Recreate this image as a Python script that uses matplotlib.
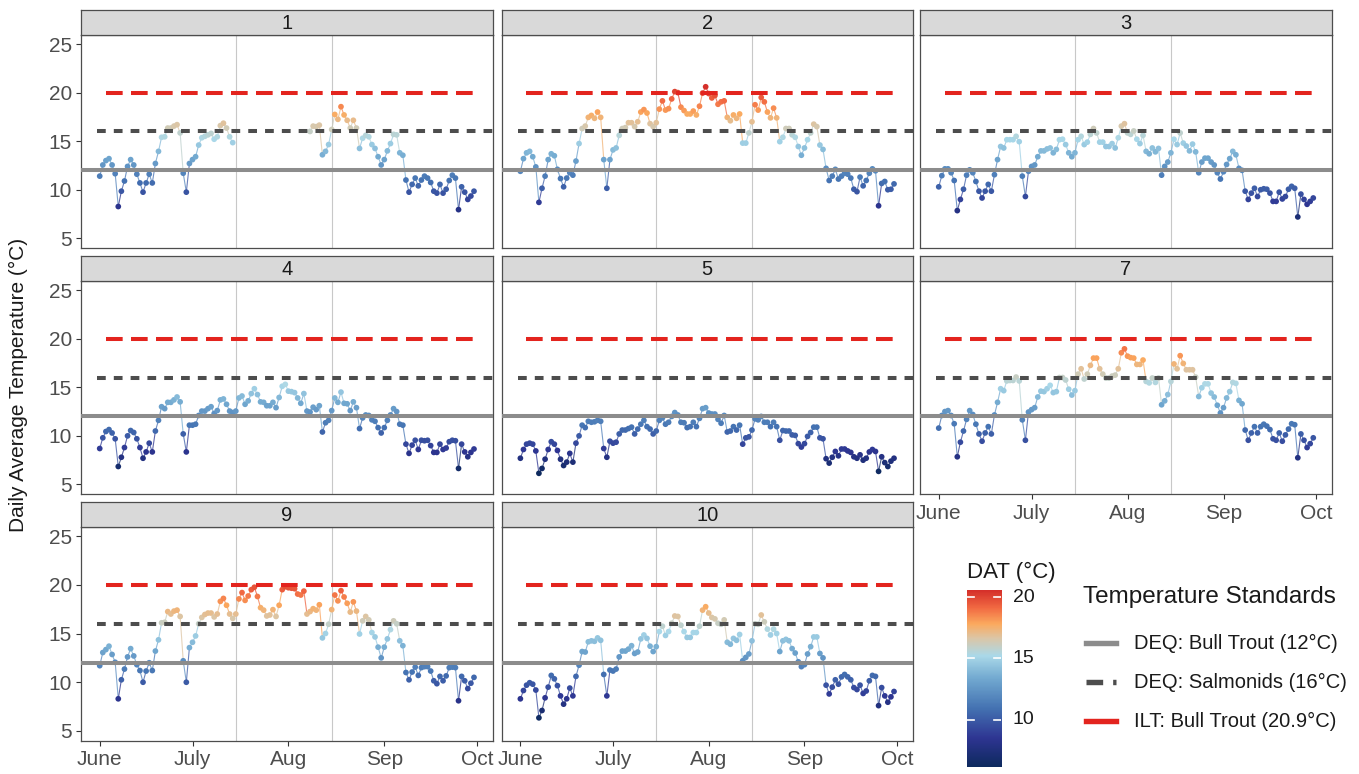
import numpy as np
import pandas as pd
import matplotlib
matplotlib.use("Agg")
import matplotlib.pyplot as plt
import matplotlib.dates as mdates
from matplotlib.collections import LineCollection
from matplotlib.colors import LinearSegmentedColormap, Normalize
from matplotlib.lines import Line2D

plt.rcParams['font.family'] = ['Liberation Sans', 'DejaVu Sans']
plt.rcParams['lines.scale_dashes'] = False

nan = np.nan

# daily average temperature, June 1 - Sep 30, one list per site
site_1 = [11.4, 12.55, 13.0, 13.2, 12.55, 11.65, 8.27, 9.85, 10.9, 12.4,
          13.1, 12.55, 11.6, 10.7, 9.75, 10.7, 11.6, 10.7, 12.7, 13.95,
          15.4, 15.45, 16.35, 16.35, 16.55, 16.7, 15.85, 11.7, 9.75, 12.7,
          13.1, 13.4, 14.6, 15.35, 15.5, 15.65, 15.8, 15.2, 15.45, 16.6,
          16.85, 16.35, 15.45, 14.85,
          nan, nan, nan, nan, nan, nan, nan, nan, nan, nan, nan, nan,
          nan, nan, nan, nan, nan, nan, nan, nan, nan, nan, nan, nan,
          16.0, 16.55, 16.5, 16.65, 13.6, 13.95, 14.65, 16.2, 17.75, 17.25,
          18.55, 17.7, 17.15, 16.35, 17.15, 16.35, 14.25, 15.3, 15.6, 15.45,
          14.65, 14.25, 13.4, 12.55, 13.1, 14.0, 14.75, 15.7, 15.65, 13.8,
          13.55, 11.0, 9.75, 10.55, 11.2, 10.4, 11.0, 11.4, 11.2, 10.75,
          9.85, 9.65, 10.55, 9.65, 10.05, 10.95, 11.5, 11.2, 7.95, 10.3,
          9.75, 9.0, 9.35, 9.85]
site_2 = [11.9, 13.2, 13.8, 13.95, 13.4, 12.35, 8.7, 10.15, 11.4, 13.1,
          13.7, 13.5, 12.1, 11.15, 10.3, 11.2, 11.75, 11.5, 12.95, 14.75,
          16.3, 16.55, 17.45, 17.65, 17.35, 18.0, 17.45, 13.1, 10.15, 13.1,
          14.1, 14.3, 15.6, 16.3, 16.4, 16.9, 16.9, 16.5, 17.0, 18.0,
          18.25, 17.9, 16.8, 16.5, 16.9, 18.3, 19.15, 18.2, 18.35, 19.35,
          20.1, 20.0, 18.5, 18.15, 17.8, 17.8, 18.1, 17.7, 18.6, 19.95,
          20.6, 19.9, 19.45, 19.7, 18.8, 19.05, 19.15, 17.45, 17.1, 17.7,
          17.35, 17.8, 14.8, 14.8, 15.85, 17.0, 18.75, 18.2, 19.5, 19.05,
          18.0, 17.4, 18.4, 17.4, 14.95, 15.4, 16.3, 16.3, 15.65, 15.4,
          14.45, 13.55, 14.3, 15.15, 15.85, 16.75, 16.5, 14.6, 14.15, 12.2,
          10.95, 11.4, 12.1, 11.1, 11.4, 11.7, 11.6, 11.2, 10.05, 9.8,
          11.3, 10.4, 10.95, 11.7, 12.15, 11.95, 8.35, 10.65, 10.85, 10.0,
          10.05, 10.6]
site_3 = [10.3, 11.45, 12.15, 12.15, 11.75, 10.95, 7.85, 9.0, 10.05, 11.5,
          12.05, 11.75, 10.85, 9.85, 9.15, 9.85, 10.55, 9.85, 11.55, 13.1,
          14.45, 14.3, 15.15, 15.15, 15.15, 15.5, 14.95, 11.4, 9.3, 11.9,
          12.4, 12.55, 13.4, 14.0, 14.0, 14.2, 14.3, 13.8, 14.15, 15.15,
          15.2, 14.65, 13.8, 13.4, 13.8, 15.15, 15.5, 14.65, 14.9, 15.7,
          16.3, 15.85, 14.9, 14.9, 14.45, 14.45, 14.75, 14.3, 15.35, 16.55,
          16.8, 15.85, 15.7, 16.05, 15.2, 14.75, 15.6, 13.95, 13.7, 14.3,
          13.9, 14.25, 11.5, 12.4, 12.85, 13.8, 15.2, 14.65, 15.85, 14.8,
          14.5, 14.0, 14.7, 13.9, 11.75, 12.85, 13.25, 13.25, 12.85, 12.55,
          11.75, 11.1, 11.85, 12.6, 13.2, 13.95, 13.6, 12.2, 12.0, 9.85,
          9.0, 9.65, 10.15, 9.3, 10.0, 10.1, 10.05, 9.65, 8.8, 8.8,
          9.75, 9.05, 9.3, 10.05, 10.35, 10.15, 7.2, 9.55, 9.0, 8.5,
          8.8, 9.15]
site_4 = [8.7, 9.8, 10.45, 10.65, 10.3, 9.7, 6.85, 7.8, 8.8, 10.0,
          10.55, 10.35, 9.7, 8.8, 7.7, 8.35, 9.25, 8.35, 10.5, 11.6,
          13.0, 12.8, 13.45, 13.45, 13.7, 14.0, 13.5, 10.2, 8.35, 11.1,
          11.1, 11.2, 12.1, 12.55, 12.55, 12.8, 13.0, 12.3, 12.6, 13.7,
          13.8, 13.25, 12.55, 12.4, 12.55, 13.9, 14.1, 13.25, 13.6, 14.35,
          14.85, 14.25, 13.5, 13.45, 13.1, 13.1, 13.45, 12.9, 13.95, 15.1,
          15.3, 14.6, 14.55, 14.45, 13.9, 13.35, 14.35, 12.55, 12.45, 12.95,
          12.7, 13.1, 10.4, 11.35, 11.6, 12.6, 13.9, 13.45, 14.5, 13.35,
          13.3, 12.6, 13.5, 12.9, 10.75, 11.85, 12.15, 12.1, 11.65, 11.5,
          10.85, 10.3, 10.85, 11.6, 12.15, 12.8, 12.5, 11.2, 11.1, 9.15,
          8.2, 9.05, 9.55, 8.6, 9.55, 9.5, 9.55, 9.0, 8.3, 8.3,
          9.15, 8.6, 8.75, 9.4, 9.55, 9.5, 6.65, 9.15, 8.35, 7.85,
          8.3, 8.65]
site_5 = [7.7, 8.6, 9.15, 9.25, 9.15, 8.45, 6.15, 6.65, 7.6, 8.6,
          9.4, 9.15, 8.5, 7.6, 6.95, 7.3, 8.2, 7.3, 9.25, 10.0,
          11.1, 10.85, 11.5, 11.4, 11.45, 11.6, 11.5, 8.7, 7.8, 9.45,
          9.25, 9.35, 10.2, 10.6, 10.6, 10.75, 10.9, 10.2, 10.7, 11.2,
          11.6, 10.95, 10.7, 10.2, 10.5, 11.6, 11.85, 11.2, 11.4, 12.0,
          12.4, 12.15, 11.4, 11.35, 10.85, 10.95, 11.4, 10.95, 11.8, 12.8,
          12.9, 12.35, 12.25, 12.25, 11.7, 11.3, 12.1, 10.4, 10.5, 10.95,
          10.6, 11.1, 9.15, 9.8, 9.9, 10.6, 11.75, 11.65, 12.0, 11.4,
          11.4, 10.95, 11.4, 10.95, 9.55, 10.55, 10.5, 10.5, 10.1, 10.05,
          9.2, 8.85, 9.2, 9.95, 10.35, 10.9, 10.9, 9.8, 9.7, 7.65,
          7.2, 7.8, 8.4, 7.95, 8.65, 8.65, 8.45, 8.3, 7.85, 7.7,
          8.05, 7.5, 7.7, 8.35, 8.6, 8.4, 6.35, 7.85, 7.25, 6.85,
          7.4, 7.7]
site_7 = [10.8, 12.1, 12.5, 12.6, 12.1, 11.25, 7.85, 9.35, 10.5, 11.7,
          12.6, 12.2, 11.2, 10.2, 9.45, 10.3, 10.95, 10.2, 12.15, 13.45,
          14.85, 14.65, 15.65, 15.7, 15.7, 16.05, 15.65, 11.65, 9.55, 12.45,
          12.7, 12.9, 14.0, 14.6, 14.55, 14.85, 15.2, 14.45, 14.55, 16.0,
          16.0, 15.75, 14.8, 14.2, 14.65, 16.35, 16.9, 15.85, 16.35, 17.25,
          18.0, 18.0, 16.9, 16.35, 15.95, 15.95, 16.15, 16.25, 16.9, 18.55,
          18.95, 18.2, 18.05, 18.0, 17.35, 17.35, 17.8, 15.6, 15.45, 15.95,
          15.5, 15.95, 13.2, 13.6, 14.25, 15.6, 17.4, 16.9, 18.25, 17.45,
          16.8, 16.8, 16.8, 16.05, 14.05, 14.95, 15.35, 15.35, 14.4, 14.0,
          13.15, 12.35, 12.9, 13.9, 14.55, 15.5, 15.4, 13.65, 13.3, 10.6,
          9.55, 10.3, 10.95, 10.3, 10.95, 11.2, 11.0, 10.65, 9.7, 9.55,
          10.3, 9.45, 10.1, 10.7, 11.25, 11.15, 7.75, 10.2, 9.55, 8.8,
          9.2, 9.8]
site_9 = [11.7, 13.05, 13.35, 13.7, 12.85, 12.05, 8.3, 10.25, 11.35, 12.6,
          13.45, 12.7, 11.8, 11.2, 10.0, 11.15, 12.0, 11.2, 13.2, 14.35,
          16.1, 16.15, 17.25, 17.0, 17.3, 17.4, 16.75, 12.2, 10.0, 13.55,
          14.1, 14.75, 16.0, 16.65, 16.95, 17.1, 17.1, 16.7, 17.0, 18.3,
          18.6, 17.9, 17.0, 16.55, 17.0, 18.55, 19.2, 18.4, 18.85, 19.5,
          19.75, 18.8, 17.65, 17.4, 16.8, 16.9, 17.45, 16.75, 17.9, 19.5,
          19.8, 19.7, 19.65, 19.6, 19.05, 18.95, 19.35, 17.0, 17.25, 17.55,
          17.4, 17.95, 14.55, 15.0, 15.95, 17.45, 18.95, 18.35, 19.4, 18.75,
          18.1, 17.2, 18.25, 17.3, 14.95, 16.3, 16.75, 16.4, 15.1, 14.65,
          13.6, 12.5, 13.6, 14.45, 15.4, 16.3, 16.0, 14.25, 13.75, 11.0,
          10.25, 11.05, 11.55, 10.7, 11.5, 11.6, 11.6, 11.15, 10.15, 9.85,
          10.6, 10.15, 10.65, 11.5, 11.55, 11.5, 8.1, 10.6, 10.15, 9.35,
          9.9, 10.5]
site_10 = [8.3, 9.15, 9.7, 9.95, 9.8, 9.2, 6.35, 7.1, 8.4, 9.5,
           10.7, 10.35, 9.65, 8.6, 7.75, 8.3, 9.4, 8.6, 10.6, 11.75,
           13.15, 13.1, 14.15, 14.25, 14.2, 14.55, 14.3, 10.8, 8.6, 11.25,
           11.15, 11.35, 12.6, 13.2, 13.2, 13.4, 13.75, 12.95, 13.1, 14.45,
           14.85, 14.5, 13.7, 13.15, 13.65, 15.2, 15.75, 14.8, 15.2, 16.05,
           16.8, 16.75, 15.85, 15.2, 14.6, 14.6, 15.1, 15.1, 15.75, 17.4,
           17.75, 17.1, 16.65, 16.5, 16.05, 15.95, 16.4, 14.1, 13.9, 14.5,
           14.3, 14.9, 12.2, 12.55, 12.9, 14.25, 16.0, 15.95, 16.9, 16.2,
           15.45, 14.85, 15.45, 15.0, 13.15, 14.25, 14.4, 14.25, 13.45, 13.0,
           12.1, 11.6, 11.8, 12.9, 13.65, 14.65, 14.65, 12.95, 12.5, 9.7,
           8.8, 9.5, 10.25, 9.8, 10.55, 10.8, 10.55, 10.25, 9.45, 9.25,
           9.7, 8.85, 9.1, 10.15, 10.7, 10.6, 7.6, 9.45, 8.6, 7.95,
           8.5, 9.05]

site_names = ['1', '2', '3', '4', '5', '7', '9', '10']
site_data = [site_1, site_2, site_3, site_4, site_5, site_7, site_9, site_10]

dates = pd.date_range('2021-06-01', '2021-09-30', freq='D')

# temperature standards
bull_trout = 12
salmonids = 16
ilt_line = 20
std_labels = ['DEQ: Bull Trout (12°C)', 'DEQ: Salmonids (16°C)', 'ILT: Bull Trout (20.9°C)']

month_ticks = ['2021-06-01', '2021-07-01', '2021-08-01', '2021-09-01', '2021-10-01']
month_labels = ['June', 'July', 'Aug', 'Sep', 'Oct']
ref_days = ['2021-07-15', '2021-08-15']

W, H = 1359, 774
fig = plt.figure(figsize=(W / 100, H / 100), dpi=100)
fig.patch.set_facecolor('white')


def px(x0, y0, x1, y1):
    return [x0 / W, 1 - y1 / H, (x1 - x0) / W, (y1 - y0) / H]


cmap = LinearSegmentedColormap.from_list('dat', [
    (0.00, '#0E2A5E'), (0.16, '#2E3592'), (0.33, '#4472B2'),
    (0.50, '#72A9D0'), (0.63, '#ABD9E9'), (0.73, '#DCC6A6'),
    (0.81, '#FBAA5F'), (0.90, '#F26B43'), (1.00, '#D5302A')])
all_vals = np.concatenate([np.array(s, dtype=float) for s in site_data])
norm = Normalize(vmin=np.nanmin(all_vals), vmax=np.nanmax(all_vals))

xnum = mdates.date2num(dates)
pad = (xnum[-1] - xnum[0]) * 0.05
xlim = (xnum[0] - pad, xnum[-1] + pad)

col_x = [(81, 492.7), (501.7, 912.7), (920, 1332)]
row_y = [(35, 248.3), (281, 494.5), (527, 741)]
strip_y = [(10, 35), (256, 281), (502, 527)]
edge = '#4D4D4D'

for i, (name, vals) in enumerate(zip(site_names, site_data)):
    r, c = divmod(i, 3)
    x0, x1 = col_x[c]
    ax = fig.add_axes(px(x0, row_y[r][0], x1, row_y[r][1]))
    sax = fig.add_axes(px(x0, strip_y[r][0], x1, strip_y[r][1]))

    sax.set_facecolor('#D9D9D9')
    sax.set_xticks([])
    sax.set_yticks([])
    for sp in sax.spines.values():
        sp.set_color(edge)
        sp.set_linewidth(0.9)
    sax.text(0.5, 0.47, name, ha='center', va='center', fontsize=14.5,
             color='#1A1A1A', transform=sax.transAxes)

    v = np.array(vals, dtype=float)
    ax.set_xlim(*xlim)
    ax.set_ylim(3.97, 25.93)

    for d in ref_days:
        ax.axvline(mdates.date2num(pd.Timestamp(d)), color='#C8C8C8', lw=0.8, zorder=1)

    segs, seg_cols = [], []
    for k in range(len(v) - 1):
        if np.isnan(v[k]) or np.isnan(v[k + 1]):
            continue
        segs.append([(xnum[k], v[k]), (xnum[k + 1], v[k + 1])])
        seg_cols.append(cmap(norm(v[k])))
    ax.add_collection(LineCollection(segs, colors=seg_cols, linewidths=0.8,
                                     alpha=0.75, zorder=2))
    ok = ~np.isnan(v)
    ax.scatter(xnum[ok], v[ok], c=v[ok], cmap=cmap, norm=norm, s=17,
               linewidths=0, zorder=3)

    ax.axhline(bull_trout, color='#8C8C8C', lw=2.9, zorder=4)
    ax.plot([xnum[0] - 0.75, xlim[1] + 5], [salmonids, salmonids], color='#4D4D4D',
            lw=2.9, dashes=(6.3, 5.8), zorder=4, clip_on=True)
    ax.plot([xnum[0] + 1.94, xnum[0] + 120.6], [ilt_line, ilt_line], color='#E3241E',
            lw=2.9, dashes=(12.0, 6.0), zorder=4)

    for sp in ax.spines.values():
        sp.set_color(edge)
        sp.set_linewidth(0.9)

    ax.set_yticks([5, 10, 15, 20, 25])
    ax.set_xticks(mdates.date2num(pd.to_datetime(month_ticks)))
    ax.set_xticklabels(month_labels)
    ax.tick_params(length=3.5, width=0.8, color='#333333', labelsize=15,
                   labelcolor='#4D4D4D', pad=3)
    if c != 0:
        ax.tick_params(axis='y', left=False, labelleft=False)
    if name not in ('7', '9', '10'):
        ax.tick_params(axis='x', bottom=False, labelbottom=False)

fig.text(18 / W, 1 - 385 / H, 'Daily Average Temperature (°C)', rotation=90,
         ha='center', va='center', fontsize=15, color='#1A1A1A')

# colour bar
cax = fig.add_axes(px(967, 590, 1001, 766.7))
grad = np.linspace(norm.vmin, norm.vmax, 300)[:, None]
cax.imshow(grad, aspect='auto', cmap=cmap, norm=norm, origin='lower',
           extent=[0, 1, norm.vmin, norm.vmax])
cax.set_xlim(0, 1)
cax.set_ylim(norm.vmin, norm.vmax)
cax.axis('off')
for t in [10, 15, 20]:
    cax.plot([0, 0.2], [t, t], color='white', lw=1.2)
    cax.plot([0.8, 1], [t, t], color='white', lw=1.2)
    cax.text(1.35, t, str(t), ha='left', va='center', fontsize=14,
             color='#1A1A1A', transform=cax.get_yaxis_transform())
fig.text(967 / W, 1 - 572 / H, 'DAT (°C)', ha='left', va='center',
         fontsize=16, color='#1A1A1A')

# standards legend
fig.text(1083 / W, 1 - 597 / H, 'Temperature Standards', ha='left', va='center',
         fontsize=17.5, color='#1A1A1A')
key_styles = [dict(color='#8C8C8C'),
              dict(color='#4D4D4D', dashes=(12.0, 7.2)),
              dict(color='#E3241E')]
for lab, ky, st in zip(std_labels, [643, 682, 721], key_styles):
    fig.add_artist(Line2D([1086 / W, 1116 / W], [1 - ky / H, 1 - ky / H],
                          transform=fig.transFigure, lw=3.9, **st))
    fig.text(1134 / W, 1 - ky / H, lab, ha='left', va='center',
             fontsize=14.5, color='#1A1A1A')

fig.savefig('out.png', dpi=100)
